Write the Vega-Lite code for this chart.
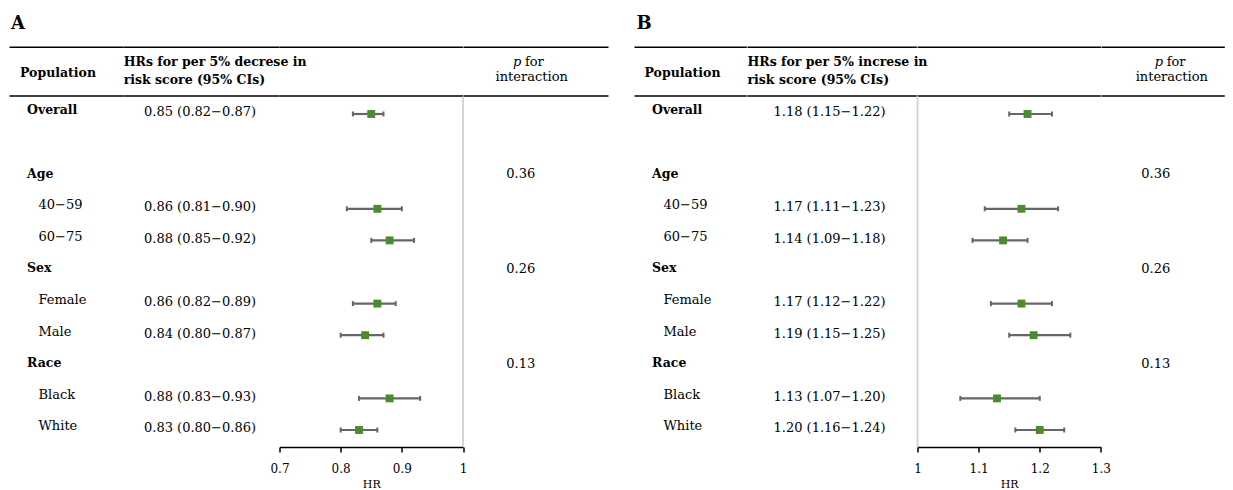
{
  "$schema": "https://vega.github.io/schema/vega-lite/v6.json",
  "padding": {"left": 8.5, "top": 5, "right": 5, "bottom": 0},
  "background": "white",
  "config": {
    "view": {"stroke": null},
    "font": "DejaVu Serif",
    "text": {"font": "DejaVu Serif", "fontSize": 13, "color": "black", "baseline": "middle"},
    "axisX": {
      "domainColor": "black", "domainWidth": 1.5, "tickColor": "black", "tickWidth": 1.5, "tickSize": 5,
      "labelFont": "DejaVu Serif", "labelFontSize": 12, "labelColor": "black", "labelPadding": 11,
      "labelFlush": false, "labelOverlap": false, "grid": false,
      "titleFont": "DejaVu Serif", "titleFontSize": 11, "titleFontWeight": "normal", "titleColor": "black", "titlePadding": 4
    }
  },
  "datasets": {
    "a": [
      {"row": 0, "label": "Overall", "kind": "group", "hr": 0.85, "lo": 0.82, "hi": 0.87, "ci": "0.85 (0.82−0.87)"},
      {"row": 2, "label": "Age", "kind": "group", "p": "0.36"},
      {"row": 3, "label": "40−59", "kind": "sub", "hr": 0.86, "lo": 0.81, "hi": 0.90, "ci": "0.86 (0.81−0.90)"},
      {"row": 4, "label": "60−75", "kind": "sub", "hr": 0.88, "lo": 0.85, "hi": 0.92, "ci": "0.88 (0.85−0.92)"},
      {"row": 5, "label": "Sex", "kind": "group", "p": "0.26"},
      {"row": 6, "label": "Female", "kind": "sub", "hr": 0.86, "lo": 0.82, "hi": 0.89, "ci": "0.86 (0.82−0.89)"},
      {"row": 7, "label": "Male", "kind": "sub", "hr": 0.84, "lo": 0.80, "hi": 0.87, "ci": "0.84 (0.80−0.87)"},
      {"row": 8, "label": "Race", "kind": "group", "p": "0.13"},
      {"row": 9, "label": "Black", "kind": "sub", "hr": 0.88, "lo": 0.83, "hi": 0.93, "ci": "0.88 (0.83−0.93)"},
      {"row": 10, "label": "White", "kind": "sub", "hr": 0.83, "lo": 0.80, "hi": 0.86, "ci": "0.83 (0.80−0.86)"}
    ],
    "b": [
      {"row": 0, "label": "Overall", "kind": "group", "hr": 1.18, "lo": 1.15, "hi": 1.22, "ci": "1.18 (1.15−1.22)"},
      {"row": 2, "label": "Age", "kind": "group", "p": "0.36"},
      {"row": 3, "label": "40−59", "kind": "sub", "hr": 1.17, "lo": 1.11, "hi": 1.23, "ci": "1.17 (1.11−1.23)"},
      {"row": 4, "label": "60−75", "kind": "sub", "hr": 1.14, "lo": 1.09, "hi": 1.18, "ci": "1.14 (1.09−1.18)"},
      {"row": 5, "label": "Sex", "kind": "group", "p": "0.26"},
      {"row": 6, "label": "Female", "kind": "sub", "hr": 1.17, "lo": 1.12, "hi": 1.22, "ci": "1.17 (1.12−1.22)"},
      {"row": 7, "label": "Male", "kind": "sub", "hr": 1.19, "lo": 1.15, "hi": 1.25, "ci": "1.19 (1.15−1.25)"},
      {"row": 8, "label": "Race", "kind": "group", "p": "0.13"},
      {"row": 9, "label": "Black", "kind": "sub", "hr": 1.13, "lo": 1.07, "hi": 1.20, "ci": "1.13 (1.07−1.20)"},
      {"row": 10, "label": "White", "kind": "sub", "hr": 1.20, "lo": 1.16, "hi": 1.24, "ci": "1.20 (1.16−1.24)"}
    ]
  },
  "spacing": 24,
  "hconcat": [
    {
      "bounds": "flush",
      "spacing": 0,
      "hconcat": [
        {
          "width": 114, "height": 442,
          "data": {"name": "a"},
          "layer": [
            {"data": {"values": [{}]}, "mark": {"type": "rule", "color": "black", "strokeWidth": 1.4}, "encoding": {"y": {"datum": -2.111, "type": "quantitative", "scale": {"domain": [-3.449, 10.538], "reverse": true, "nice": false, "zero": false}, "axis": null}}},
            {"data": {"values": [{}]}, "mark": {"type": "rule", "color": "black", "strokeWidth": 1.4}, "encoding": {"y": {"datum": -0.57, "type": "quantitative", "axis": null}}},
            {"data": {"values": [{}]}, "mark": {"type": "text", "text": "A", "fontSize": 18, "fontWeight": "bold", "align": "left", "dx": -55.5}, "encoding": {"y": {"datum": -2.848, "type": "quantitative", "axis": null}}},
            {"data": {"values": [{}]}, "mark": {"type": "text", "text": "Population", "fontSize": 12.5, "fontWeight": "bold", "align": "left", "dx": -46.5}, "encoding": {"y": {"datum": -1.288, "type": "quantitative", "axis": null}}},
            {"transform": [{"filter": "datum.kind == 'group'"}], "mark": {"type": "text", "fontSize": 12.5, "fontWeight": "bold", "align": "left", "dx": -39.5, "dy": -3.5}, "encoding": {"y": {"field": "row", "type": "quantitative", "axis": null}, "text": {"field": "label"}}},
            {"transform": [{"filter": "datum.kind == 'sub'"}], "mark": {"type": "text", "align": "left", "dx": -28, "dy": -3.5}, "encoding": {"y": {"field": "row", "type": "quantitative", "axis": null}, "text": {"field": "label"}}}
          ]
        },
        {
          "width": 156, "height": 442,
          "data": {"name": "a"},
          "layer": [
            {"data": {"values": [{}]}, "mark": {"type": "rule", "color": "black", "strokeWidth": 1.4}, "encoding": {"y": {"datum": -2.111, "type": "quantitative", "scale": {"domain": [-3.449, 10.538], "reverse": true, "nice": false, "zero": false}, "axis": null}}},
            {"data": {"values": [{}]}, "mark": {"type": "rule", "color": "black", "strokeWidth": 1.4}, "encoding": {"y": {"datum": -0.57, "type": "quantitative", "axis": null}}},
            {"data": {"values": [{}]}, "mark": {"type": "text", "text": "HRs for per 5% decrese in", "fontSize": 12.5, "fontWeight": "bold", "align": "left", "dx": -77.8}, "encoding": {"y": {"datum": -1.636, "type": "quantitative", "axis": null}}},
            {"data": {"values": [{}]}, "mark": {"type": "text", "text": "risk score (95% CIs)", "fontSize": 12.5, "fontWeight": "bold", "align": "left", "dx": -77.8}, "encoding": {"y": {"datum": -1.076, "type": "quantitative", "axis": null}}},
            {"transform": [{"filter": "datum.ci != null"}], "mark": {"type": "text", "align": "center", "dx": -1.5, "dy": -1.5}, "encoding": {"y": {"field": "row", "type": "quantitative", "axis": null}, "text": {"field": "ci"}}}
          ]
        },
        {
          "width": 183.5, "height": 442,
          "data": {"name": "a"},
          "layer": [
            {"data": {"values": [{}]}, "mark": {"type": "rule", "color": "black", "strokeWidth": 1.4}, "encoding": {"y": {"datum": -2.111, "type": "quantitative", "scale": {"domain": [-3.449, 10.538], "reverse": true, "nice": false, "zero": false}, "axis": null}}},
            {"data": {"values": [{}]}, "mark": {"type": "rule", "color": "black", "strokeWidth": 1.4}, "encoding": {"y": {"datum": -0.57, "type": "quantitative", "axis": null}}},
            {"data": {"values": [{}]}, "mark": {"type": "rule", "color": "#cccccc", "strokeWidth": 1.6},
              "encoding": {
                "x": {"datum": 1, "type": "quantitative", "scale": {"domain": [0.7, 1.0], "nice": false, "zero": false}, "axis": {"title": "HR", "values": [0.7, 0.8, 0.9, 1], "format": "~g"}},
                "y": {"datum": -0.55, "type": "quantitative", "axis": null},
                "y2": {"datum": 10.538}
              }},
            {"transform": [{"filter": "datum.hr != null"}], "mark": {"type": "rule", "color": "#666666", "strokeWidth": 2.2},
              "encoding": {
                "x": {"field": "lo", "type": "quantitative", "axis": {"title": "HR", "values": [0.7, 0.8, 0.9, 1], "format": "~g"}},
                "x2": {"field": "hi"},
                "y": {"field": "row", "type": "quantitative", "axis": null}
              }},
            {"transform": [{"filter": "datum.hr != null"}], "mark": {"type": "tick", "orient": "vertical", "color": "#666666", "size": 5, "thickness": 2, "opacity": 1},
              "encoding": {"x": {"field": "lo", "type": "quantitative", "axis": {"title": "HR", "values": [0.7, 0.8, 0.9, 1], "format": "~g"}}, "y": {"field": "row", "type": "quantitative", "axis": null}}},
            {"transform": [{"filter": "datum.hr != null"}], "mark": {"type": "tick", "orient": "vertical", "color": "#666666", "size": 5, "thickness": 2, "opacity": 1},
              "encoding": {"x": {"field": "hi", "type": "quantitative", "axis": {"title": "HR", "values": [0.7, 0.8, 0.9, 1], "format": "~g"}}, "y": {"field": "row", "type": "quantitative", "axis": null}}},
            {"transform": [{"filter": "datum.hr != null"}], "mark": {"type": "square", "color": "#4c8a2e", "size": 62, "opacity": 1, "filled": true},
              "encoding": {"x": {"field": "hr", "type": "quantitative", "axis": {"title": "HR", "values": [0.7, 0.8, 0.9, 1], "format": "~g"}}, "y": {"field": "row", "type": "quantitative", "axis": null}}}
          ]
        },
        {
          "width": 145, "height": 442,
          "data": {"name": "a"},
          "layer": [
            {"data": {"values": [{}]}, "mark": {"type": "rule", "color": "black", "strokeWidth": 1.4}, "encoding": {"y": {"datum": -2.111, "type": "quantitative", "scale": {"domain": [-3.449, 10.538], "reverse": true, "nice": false, "zero": false}, "axis": null}}},
            {"data": {"values": [{}]}, "mark": {"type": "rule", "color": "black", "strokeWidth": 1.4}, "encoding": {"y": {"datum": -0.57, "type": "quantitative", "axis": null}}},
            {"data": {"values": [{}]}, "mark": {"type": "text", "text": "p", "fontStyle": "italic", "align": "left", "dx": -23.1}, "encoding": {"y": {"datum": -1.655, "type": "quantitative", "axis": null}}},
            {"data": {"values": [{}]}, "mark": {"type": "text", "text": "for", "align": "left", "dx": -11.1}, "encoding": {"y": {"datum": -1.655, "type": "quantitative", "axis": null}}},
            {"data": {"values": [{}]}, "mark": {"type": "text", "text": "interaction", "align": "center", "dx": -4.3}, "encoding": {"y": {"datum": -1.18, "type": "quantitative", "axis": null}}},
            {"transform": [{"filter": "datum.p != null"}], "mark": {"type": "text", "align": "center", "dx": -15.3, "dy": -3}, "encoding": {"y": {"field": "row", "type": "quantitative", "axis": null}, "text": {"field": "p"}}}
          ]
        }
      ]
    },
    {
      "bounds": "flush",
      "spacing": 0,
      "hconcat": [
        {
          "width": 112.3, "height": 442,
          "data": {"name": "b"},
          "layer": [
            {"data": {"values": [{}]}, "mark": {"type": "rule", "color": "black", "strokeWidth": 1.4}, "encoding": {"y": {"datum": -2.111, "type": "quantitative", "scale": {"domain": [-3.449, 10.538], "reverse": true, "nice": false, "zero": false}, "axis": null}}},
            {"data": {"values": [{}]}, "mark": {"type": "rule", "color": "black", "strokeWidth": 1.4}, "encoding": {"y": {"datum": -0.57, "type": "quantitative", "axis": null}}},
            {"data": {"values": [{}]}, "mark": {"type": "text", "text": "B", "fontSize": 18, "fontWeight": "bold", "align": "left", "dx": -54.15}, "encoding": {"y": {"datum": -2.848, "type": "quantitative", "axis": null}}},
            {"data": {"values": [{}]}, "mark": {"type": "text", "text": "Population", "fontSize": 12.5, "fontWeight": "bold", "align": "left", "dx": -46.15}, "encoding": {"y": {"datum": -1.288, "type": "quantitative", "axis": null}}},
            {"transform": [{"filter": "datum.kind == 'group'"}], "mark": {"type": "text", "fontSize": 12.5, "fontWeight": "bold", "align": "left", "dx": -38.65, "dy": -3.5}, "encoding": {"y": {"field": "row", "type": "quantitative", "axis": null}, "text": {"field": "label"}}},
            {"transform": [{"filter": "datum.kind == 'sub'"}], "mark": {"type": "text", "align": "left", "dx": -27.15, "dy": -3.5}, "encoding": {"y": {"field": "row", "type": "quantitative", "axis": null}, "text": {"field": "label"}}}
          ]
        },
        {
          "width": 169.3, "height": 442,
          "data": {"name": "b"},
          "layer": [
            {"data": {"values": [{}]}, "mark": {"type": "rule", "color": "black", "strokeWidth": 1.4}, "encoding": {"y": {"datum": -2.111, "type": "quantitative", "scale": {"domain": [-3.449, 10.538], "reverse": true, "nice": false, "zero": false}, "axis": null}}},
            {"data": {"values": [{}]}, "mark": {"type": "rule", "color": "black", "strokeWidth": 1.4}, "encoding": {"y": {"datum": -0.57, "type": "quantitative", "axis": null}}},
            {"data": {"values": [{}]}, "mark": {"type": "text", "text": "HRs for per 5% increse in", "fontSize": 12.5, "fontWeight": "bold", "align": "left", "dx": -84.65}, "encoding": {"y": {"datum": -1.636, "type": "quantitative", "axis": null}}},
            {"data": {"values": [{}]}, "mark": {"type": "text", "text": "risk score (95% CIs)", "fontSize": 12.5, "fontWeight": "bold", "align": "left", "dx": -84.65}, "encoding": {"y": {"datum": -1.076, "type": "quantitative", "axis": null}}},
            {"transform": [{"filter": "datum.ci != null"}], "mark": {"type": "text", "align": "center", "dx": -2.65, "dy": -1.5}, "encoding": {"y": {"field": "row", "type": "quantitative", "axis": null}, "text": {"field": "ci"}}}
          ]
        },
        {
          "width": 183.4, "height": 442,
          "data": {"name": "b"},
          "layer": [
            {"data": {"values": [{}]}, "mark": {"type": "rule", "color": "black", "strokeWidth": 1.4}, "encoding": {"y": {"datum": -2.111, "type": "quantitative", "scale": {"domain": [-3.449, 10.538], "reverse": true, "nice": false, "zero": false}, "axis": null}}},
            {"data": {"values": [{}]}, "mark": {"type": "rule", "color": "black", "strokeWidth": 1.4}, "encoding": {"y": {"datum": -0.57, "type": "quantitative", "axis": null}}},
            {"data": {"values": [{}]}, "mark": {"type": "rule", "color": "#cccccc", "strokeWidth": 1.6},
              "encoding": {
                "x": {"datum": 1, "type": "quantitative", "scale": {"domain": [1.0, 1.3], "nice": false, "zero": false}, "axis": {"title": "HR", "values": [1, 1.1, 1.2, 1.3], "format": "~g"}},
                "y": {"datum": -0.55, "type": "quantitative", "axis": null},
                "y2": {"datum": 10.538}
              }},
            {"transform": [{"filter": "datum.hr != null"}], "mark": {"type": "rule", "color": "#666666", "strokeWidth": 2.2},
              "encoding": {
                "x": {"field": "lo", "type": "quantitative", "axis": {"title": "HR", "values": [1, 1.1, 1.2, 1.3], "format": "~g"}},
                "x2": {"field": "hi"},
                "y": {"field": "row", "type": "quantitative", "axis": null}
              }},
            {"transform": [{"filter": "datum.hr != null"}], "mark": {"type": "tick", "orient": "vertical", "color": "#666666", "size": 5, "thickness": 2, "opacity": 1},
              "encoding": {"x": {"field": "lo", "type": "quantitative", "axis": {"title": "HR", "values": [1, 1.1, 1.2, 1.3], "format": "~g"}}, "y": {"field": "row", "type": "quantitative", "axis": null}}},
            {"transform": [{"filter": "datum.hr != null"}], "mark": {"type": "tick", "orient": "vertical", "color": "#666666", "size": 5, "thickness": 2, "opacity": 1},
              "encoding": {"x": {"field": "hi", "type": "quantitative", "axis": {"title": "HR", "values": [1, 1.1, 1.2, 1.3], "format": "~g"}}, "y": {"field": "row", "type": "quantitative", "axis": null}}},
            {"transform": [{"filter": "datum.hr != null"}], "mark": {"type": "square", "color": "#4c8a2e", "size": 62, "opacity": 1, "filled": true},
              "encoding": {"x": {"field": "hr", "type": "quantitative", "axis": {"title": "HR", "values": [1, 1.1, 1.2, 1.3], "format": "~g"}}, "y": {"field": "row", "type": "quantitative", "axis": null}}}
          ]
        },
        {
          "width": 123.3, "height": 442,
          "data": {"name": "b"},
          "layer": [
            {"data": {"values": [{}]}, "mark": {"type": "rule", "color": "black", "strokeWidth": 1.4}, "encoding": {"y": {"datum": -2.111, "type": "quantitative", "scale": {"domain": [-3.449, 10.538], "reverse": true, "nice": false, "zero": false}, "axis": null}}},
            {"data": {"values": [{}]}, "mark": {"type": "rule", "color": "black", "strokeWidth": 1.4}, "encoding": {"y": {"datum": -0.57, "type": "quantitative", "axis": null}}},
            {"data": {"values": [{}]}, "mark": {"type": "text", "text": "p", "fontStyle": "italic", "align": "left", "dx": -8.45}, "encoding": {"y": {"datum": -1.655, "type": "quantitative", "axis": null}}},
            {"data": {"values": [{}]}, "mark": {"type": "text", "text": "for", "align": "left", "dx": 3.55}, "encoding": {"y": {"datum": -1.655, "type": "quantitative", "axis": null}}},
            {"data": {"values": [{}]}, "mark": {"type": "text", "text": "interaction", "align": "center", "dx": 8.65}, "encoding": {"y": {"datum": -1.18, "type": "quantitative", "axis": null}}},
            {"transform": [{"filter": "datum.p != null"}], "mark": {"type": "text", "align": "center", "dx": -7.35, "dy": -3}, "encoding": {"y": {"field": "row", "type": "quantitative", "axis": null}, "text": {"field": "p"}}}
          ]
        }
      ]
    }
  ]
}
